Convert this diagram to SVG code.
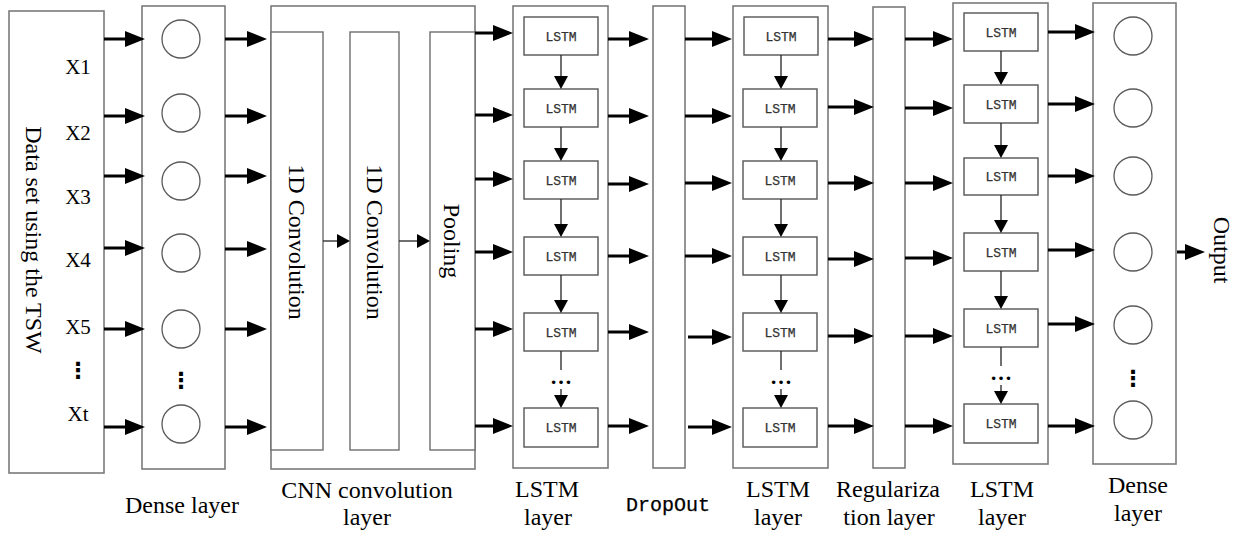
<svg xmlns="http://www.w3.org/2000/svg" width="1247" height="536" viewBox="0 0 1247 536">
<style>
.box{fill:#fff;stroke:#7a7a7a;stroke-width:1.6}
.inner{fill:#fff;stroke:#6e6e6e;stroke-width:1.4}
.cell{fill:#fff;stroke:#555;stroke-width:1.4}
.neuron{fill:#fff;stroke:#5a5a5a;stroke-width:1.3}
.thick{stroke:#000;stroke-width:3;fill:none;marker-end:url(#big)}
.thin{stroke:#222;stroke-width:1.3;fill:none;marker-end:url(#small)}
.plain{stroke:#222;stroke-width:1.3;fill:none}
.serif{font-family:"Liberation Serif","Times New Roman",serif;font-size:24px;fill:#000}
.xl{font-family:"Liberation Serif","Times New Roman",serif;font-size:21px;fill:#000;text-anchor:middle}
.mono{font-family:"Liberation Mono","Courier New",monospace;fill:#000;stroke:#000;stroke-width:0.25}
.cellt{font-family:"Liberation Mono","Courier New",monospace;font-size:13px;fill:#333;stroke:#333;stroke-width:0.25;text-anchor:middle}
.ell{font-family:"Liberation Serif","Times New Roman",serif;font-size:22px;font-weight:bold;fill:#000;text-anchor:middle}
.dots{font-family:"DejaVu Sans",sans-serif;font-weight:bold;fill:#000;text-anchor:middle}
</style>
<defs>
<marker id="big" markerUnits="userSpaceOnUse" markerWidth="20" markerHeight="17" refX="15" refY="8" orient="auto">
<path d="M0,0 L20,8 L0,16 z" fill="#000"/>
</marker>
<marker id="small" markerUnits="userSpaceOnUse" markerWidth="14" markerHeight="15" refX="10" refY="7" orient="auto">
<path d="M0,0 L13,7 L0,14 z" fill="#000"/>
</marker>
</defs>

<g id="dataset">
<rect class="box" x="9" y="11" width="95" height="462"/>
<text class="serif" text-anchor="middle" dominant-baseline="central" transform="translate(34,240) rotate(90)">Data set using the TSW</text>
<text class="xl" x="78" y="74">X1</text>
<text class="xl" x="78" y="140">X2</text>
<text class="xl" x="78" y="204">X3</text>
<text class="xl" x="78" y="267">X4</text>
<text class="xl" x="78" y="334">X5</text>
<text class="xl" x="78" y="421">Xt</text>
<text class="dots" x="78" y="378" font-size="22">⋮</text>
</g>

<g id="dense1">
<rect class="box" x="142" y="6" width="83" height="463"/>
<circle class="neuron" cx="181" cy="39" r="19"/>
<circle class="neuron" cx="181" cy="113" r="19"/>
<circle class="neuron" cx="181" cy="181" r="19"/>
<circle class="neuron" cx="181" cy="253" r="19"/>
<circle class="neuron" cx="181" cy="329" r="19"/>
<circle class="neuron" cx="181" cy="424" r="19"/>
<text class="dots" x="181" y="388" font-size="22">⋮</text>
<text class="serif" x="182" y="513" text-anchor="middle">Dense layer</text>
</g>

<g id="cnn">
<rect class="box" x="271" y="6" width="204" height="463"/>
<rect class="inner" x="271" y="32" width="52" height="418"/>
<rect class="inner" x="350" y="32" width="49" height="418"/>
<rect class="inner" x="430" y="32" width="45" height="418"/>
<text class="serif" text-anchor="middle" dominant-baseline="central" transform="translate(297,242) rotate(90)">1D Convolution</text>
<text class="serif" text-anchor="middle" dominant-baseline="central" transform="translate(375,242) rotate(90)">1D Convolution</text>
<text class="serif" text-anchor="middle" dominant-baseline="central" transform="translate(452,241) rotate(90)">Pooling</text>
<text class="serif" x="367" y="498" text-anchor="middle">CNN convolution</text>
<text class="serif" x="367" y="525" text-anchor="middle">layer</text>
</g>

<g id="lstm1">
<rect class="box" x="513" y="6" width="95" height="462"/>
<rect class="cell" x="524" y="17" width="74" height="38"/>
<rect class="cell" x="524" y="89" width="74" height="38"/>
<rect class="cell" x="524" y="161" width="74" height="38"/>
<rect class="cell" x="524" y="237" width="74" height="38"/>
<rect class="cell" x="524" y="313" width="74" height="38"/>
<rect class="cell" x="524" y="408" width="74" height="39"/>
<text class="cellt" x="561" y="40.5">LSTM</text>
<text class="cellt" x="561" y="112.5">LSTM</text>
<text class="cellt" x="561" y="184.5">LSTM</text>
<text class="cellt" x="561" y="260.5">LSTM</text>
<text class="cellt" x="561" y="336.5">LSTM</text>
<text class="cellt" x="561" y="432">LSTM</text>
<text class="ell" x="561" y="384">…</text>
<text class="serif" x="547" y="497" text-anchor="middle">LSTM</text>
<text class="serif" x="548" y="525" text-anchor="middle">layer</text>
</g>

<g id="dropout">
<rect class="box" x="653" y="6" width="32" height="462"/>
<text class="mono" x="668" y="511" font-size="20" text-anchor="middle">DropOut</text>
</g>

<g id="lstm2">
<rect class="box" x="733" y="6" width="95" height="462"/>
<rect class="cell" x="744" y="17" width="74" height="38"/>
<rect class="cell" x="743" y="89" width="74" height="38"/>
<rect class="cell" x="743" y="161" width="74" height="38"/>
<rect class="cell" x="743" y="237" width="74" height="38"/>
<rect class="cell" x="743" y="313" width="74" height="38"/>
<rect class="cell" x="743" y="408" width="74" height="39"/>
<text class="cellt" x="781" y="40.5">LSTM</text>
<text class="cellt" x="780" y="112.5">LSTM</text>
<text class="cellt" x="780" y="184.5">LSTM</text>
<text class="cellt" x="780" y="260.5">LSTM</text>
<text class="cellt" x="780" y="336.5">LSTM</text>
<text class="cellt" x="780" y="432">LSTM</text>
<text class="ell" x="781" y="384">…</text>
<text class="serif" x="778" y="497" text-anchor="middle">LSTM</text>
<text class="serif" x="778" y="525" text-anchor="middle">layer</text>
</g>

<g id="regularization">
<rect class="box" x="873" y="7" width="32" height="461"/>
<text class="serif" x="888" y="497" text-anchor="middle">Regulariza</text>
<text class="serif" x="889" y="525" text-anchor="middle">tion layer</text>
</g>

<g id="lstm3">
<rect class="box" x="953" y="3" width="95" height="461"/>
<rect class="cell" x="964" y="13" width="74" height="38"/>
<rect class="cell" x="964" y="85" width="74" height="38"/>
<rect class="cell" x="964" y="158" width="74" height="37"/>
<rect class="cell" x="964" y="233" width="74" height="38"/>
<rect class="cell" x="964" y="309" width="74" height="38"/>
<rect class="cell" x="964" y="404" width="74" height="39"/>
<text class="cellt" x="1001" y="36.5">LSTM</text>
<text class="cellt" x="1001" y="108.5">LSTM</text>
<text class="cellt" x="1001" y="181">LSTM</text>
<text class="cellt" x="1001" y="256.5">LSTM</text>
<text class="cellt" x="1001" y="332.5">LSTM</text>
<text class="cellt" x="1001" y="428">LSTM</text>
<text class="ell" x="1001" y="380">…</text>
<text class="serif" x="1002" y="497" text-anchor="middle">LSTM</text>
<text class="serif" x="1002" y="525" text-anchor="middle">layer</text>
</g>

<g id="dense2">
<rect class="box" x="1093" y="3" width="83" height="461"/>
<circle class="neuron" cx="1133" cy="36" r="19"/>
<circle class="neuron" cx="1133" cy="108" r="19"/>
<circle class="neuron" cx="1133" cy="176" r="19"/>
<circle class="neuron" cx="1133" cy="252" r="19"/>
<circle class="neuron" cx="1133" cy="325" r="19"/>
<circle class="neuron" cx="1133" cy="420" r="19"/>
<text class="dots" x="1133" y="386" font-size="22">⋮</text>
<text class="serif" x="1138" y="493" text-anchor="middle">Dense</text>
<text class="serif" x="1138" y="521" text-anchor="middle">layer</text>
</g>

<g id="output">
<text class="serif" font-size="26" text-anchor="middle" dominant-baseline="central" transform="translate(1222,250) rotate(90)">Output</text>
</g>

<g id="connectors">
<line class="thick" x1="104" y1="39" x2="140" y2="39"/>
<line class="thick" x1="104" y1="116" x2="140" y2="116"/>
<line class="thick" x1="104" y1="176" x2="140" y2="176"/>
<line class="thick" x1="104" y1="248" x2="140" y2="248"/>
<line class="thick" x1="104" y1="329" x2="140" y2="329"/>
<line class="thick" x1="104" y1="427" x2="140" y2="427"/>
<line class="thick" x1="225" y1="39" x2="262" y2="39"/>
<line class="thick" x1="225" y1="116" x2="262" y2="116"/>
<line class="thick" x1="225" y1="176" x2="262" y2="176"/>
<line class="thick" x1="225" y1="249" x2="262" y2="249"/>
<line class="thick" x1="225" y1="329" x2="262" y2="329"/>
<line class="thick" x1="225" y1="427" x2="262" y2="427"/>
<line class="thin" x1="323" y1="241" x2="347" y2="241"/>
<line class="thin" x1="399" y1="241" x2="427" y2="241"/>
<line class="thick" x1="475" y1="33" x2="508" y2="33"/>
<line class="thick" x1="475" y1="115" x2="508" y2="115"/>
<line class="thick" x1="475" y1="179" x2="508" y2="179"/>
<line class="thick" x1="475" y1="252" x2="508" y2="252"/>
<line class="thick" x1="475" y1="329" x2="508" y2="329"/>
<line class="thick" x1="475" y1="426" x2="508" y2="426"/>
<line class="thin" x1="561" y1="55" x2="561" y2="86"/>
<line class="thin" x1="561" y1="127" x2="561" y2="158"/>
<line class="thin" x1="561" y1="199" x2="561" y2="234"/>
<line class="thin" x1="561" y1="275" x2="561" y2="310"/>
<line class="plain" x1="561" y1="351" x2="561" y2="370"/>
<line class="thin" x1="561" y1="389" x2="561" y2="405"/>
<line class="thick" x1="608" y1="39" x2="644" y2="39"/>
<line class="thick" x1="608" y1="116" x2="644" y2="116"/>
<line class="thick" x1="608" y1="184" x2="644" y2="184"/>
<line class="thick" x1="608" y1="256" x2="644" y2="256"/>
<line class="thick" x1="608" y1="332" x2="644" y2="332"/>
<line class="thick" x1="608" y1="426" x2="644" y2="426"/>
<line class="thick" x1="685" y1="39" x2="727" y2="39"/>
<line class="thick" x1="685" y1="116" x2="727" y2="116"/>
<line class="thick" x1="685" y1="183" x2="727" y2="183"/>
<line class="thick" x1="685" y1="256" x2="727" y2="256"/>
<line class="thick" x1="688" y1="337" x2="727" y2="337"/>
<line class="thick" x1="688" y1="427" x2="727" y2="427"/>
<line class="thin" x1="781" y1="55" x2="781" y2="86"/>
<line class="thin" x1="781" y1="127" x2="781" y2="158"/>
<line class="thin" x1="781" y1="199" x2="781" y2="234"/>
<line class="thin" x1="781" y1="275" x2="781" y2="310"/>
<line class="plain" x1="781" y1="351" x2="781" y2="370"/>
<line class="thin" x1="781" y1="389" x2="781" y2="405"/>
<line class="thick" x1="828" y1="39" x2="869" y2="39"/>
<line class="thick" x1="828" y1="107" x2="869" y2="107"/>
<line class="thick" x1="828" y1="183" x2="869" y2="183"/>
<line class="thick" x1="828" y1="259" x2="869" y2="259"/>
<line class="thick" x1="828" y1="336" x2="869" y2="336"/>
<line class="thick" x1="828" y1="426" x2="869" y2="426"/>
<line class="thick" x1="905" y1="39" x2="948" y2="39"/>
<line class="thick" x1="905" y1="108" x2="948" y2="108"/>
<line class="thick" x1="905" y1="183" x2="948" y2="183"/>
<line class="thick" x1="905" y1="258" x2="948" y2="258"/>
<line class="thick" x1="905" y1="336" x2="948" y2="336"/>
<line class="thick" x1="905" y1="426" x2="948" y2="426"/>
<line class="thin" x1="1001" y1="51" x2="1001" y2="82"/>
<line class="thin" x1="1001" y1="123" x2="1001" y2="155"/>
<line class="thin" x1="1001" y1="195" x2="1001" y2="230"/>
<line class="thin" x1="1001" y1="271" x2="1001" y2="306"/>
<line class="plain" x1="1001" y1="347" x2="1001" y2="366"/>
<line class="thin" x1="1001" y1="385" x2="1001" y2="401"/>
<line class="thick" x1="1048" y1="32" x2="1090" y2="32"/>
<line class="thick" x1="1048" y1="104" x2="1090" y2="104"/>
<line class="thick" x1="1048" y1="176" x2="1090" y2="176"/>
<line class="thick" x1="1048" y1="250" x2="1090" y2="250"/>
<line class="thick" x1="1048" y1="324" x2="1090" y2="324"/>
<line class="thick" x1="1048" y1="426" x2="1090" y2="426"/>
<line class="thick" x1="1177" y1="252" x2="1200" y2="252"/>
</g>
</svg>
